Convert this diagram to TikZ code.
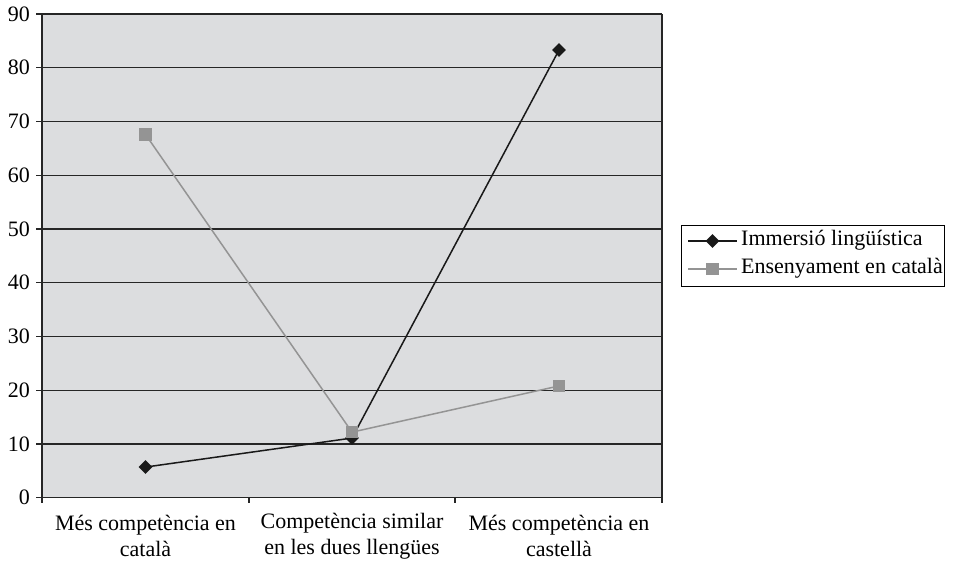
\documentclass[tikz,border=0pt]{standalone}
\usepackage{fontspec}
\setmainfont{Liberation Serif}
\usetikzlibrary{shapes.geometric}
\begin{document}
\begin{tikzpicture}[x=1pt,y=-1pt,
  lbl/.style={font=\fontsize{22}{26}\selectfont, inner sep=0pt},
  cat/.style={font=\fontsize{22}{26}\selectfont, align=center, inner sep=0pt},
  grid/.style={line width=1.4pt, color=black!85},
  dia/.style={diamond, fill=black!90, minimum size=14pt, inner sep=0pt},
  sq/.style={rectangle, fill=black!42, minimum size=12.5pt, inner sep=0pt},
  imm/.style={line width=1.5pt, color=black!90},
  ens/.style={line width=1.5pt, color=black!42},
]
\useasboundingbox (0,0) rectangle (957,565);
\def\yv#1{497.7-5.374*#1}
% plot area
\fill[color={rgb,255:red,220;green,221;blue,223}] (42,14) rectangle (662,497.7);
\foreach \v in {10,20,...,90}{
  \draw[grid] (36,{\yv{\v}}) -- (662,{\yv{\v}});
}
\foreach \v in {0,10,...,90}{
  \node[lbl, anchor=east] at (30,{\yv{\v}}) {\v};
}
\draw[grid] (36,497.7) -- (662,497.7);
\draw[grid] (42,14) -- (42,503);
\draw[grid] (662,14) -- (662,503);
\draw[grid] (249,497.7) -- (249,503);
\draw[grid] (455,497.7) -- (455,503);
% categories
\node[cat] at (145.5,536) {Més competència en\\català};
\node[cat] at (352,536) {Competència similar\\en les dues llengües};
\node[cat] at (559,536) {Més competència en\\castellà};
% series
\node[sq] (e1) at (145.5,{\yv{67.6}}) {};
\node[sq] (e2) at (352,{\yv{12.2}}) {};
\node[sq] (e3) at (559,{\yv{20.8}}) {};
\node[dia] (i1) at (145.5,{\yv{5.7}}) {};
\node[dia] (i2) at (352,{\yv{11.1}}) {};
\node[dia] (i3) at (559,{\yv{83.3}}) {};
\draw[ens] (e1.center) -- (e2.center) -- (e3.center);
\draw[imm] (i1.center) -- (i2.center) -- (i3.center);
\node[sq] at (e2) {};
\node[sq] at (e1) {};
\node[sq] at (e3) {};
% legend
\draw[line width=1pt] (681,225) rectangle (944,286);
\coordinate (l1a) at (688,241);
\coordinate (l1b) at (737,241);
\coordinate (l2a) at (688,269);
\coordinate (l2b) at (737,269);
\draw[imm] (l1a) -- (l1b);
\node[dia] (ld) at (712.5,241) {};
\draw[ens] (l2a) -- (l2b);
\node[sq] (ls) at (712.5,269) {};
\node[lbl, anchor=west] at (741,240) {Immersió lingüística};
\node[lbl, anchor=west] at (741,268) {Ensenyament en català};
\end{tikzpicture}
\end{document}
